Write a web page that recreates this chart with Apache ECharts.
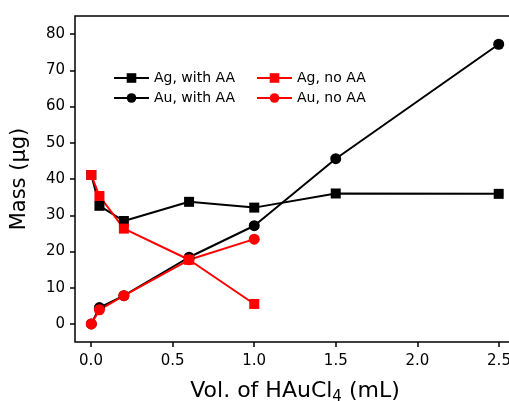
<!DOCTYPE html>
<html>
<head>
<meta charset="utf-8">
<script src="https://cdn.jsdelivr.net/npm/echarts@6/dist/echarts.min.js"></script>
<style>html,body{margin:0;padding:0;background:#fff}#c{width:509px;height:401px}</style>
</head>
<body>
<div id="c"></div>
<script>
// Data
const agWithX = [0, 0.05, 0.2, 0.6, 1.0, 1.5, 2.5];
const agWithY = [41.1, 32.6, 28.4, 33.7, 32.1, 36.0, 35.9];
const auWithX = [0, 0.05, 0.2, 0.6, 1.0, 1.5, 2.5];
const auWithY = [0, 4.5, 7.8, 18.4, 27.1, 45.6, 77.2];
const agNoX = [0, 0.05, 0.2, 0.6, 1.0];
const agNoY = [41.1, 35.3, 26.3, 17.7, 5.5];
const auNoX = [0, 0.05, 0.2, 0.6, 1.0];
const auNoY = [0, 3.9, 7.8, 17.7, 23.4];
const xTicks = [0, 0.5, 1.0, 1.5, 2.0, 2.5];
const yTicks = [0, 10, 20, 30, 40, 50, 60, 70, 80];
const names = ['Ag, with AA', 'Au, with AA', 'Ag, no AA', 'Au, no AA'];

const pairs = (xs, ys) => xs.map((x, i) => [x, ys[i]]);
const FONT = 'DejaVu Sans';

const chart = echarts.init(document.getElementById('c'));

function mk(name, xs, ys, color, symbol, size) {
  return {
    name, type: 'line', xAxisIndex: 0, yAxisIndex: 0,
    data: pairs(xs, ys), symbol, symbolSize: size,
    lineStyle: {color, width: 2}, itemStyle: {color},
    clip: false
  };
}
const off = () => ({axisLine: {show: false}, axisTick: {show: false}, axisLabel: {show: false}, splitLine: {show: false}});

chart.setOption({
  animation: false,
  grid: [
    // frame / data grid
    {left: 75, right: -6, top: 16, bottom: 59, show: true, borderColor: '#000', borderWidth: 1.5, outerBoundsMode: 'none'},
    // y tick strip (0..80), 5px wide, left of the frame
    {left: 70, width: 5, top: 34, bottom: 77, outerBoundsMode: 'none'},
    // x tick strip (0..2.5), 5px tall, below the frame
    {left: 91, right: 10, top: 342, height: 5, outerBoundsMode: 'none'}
  ],
  xAxis: [
    Object.assign(off(), {type: 'value', gridIndex: 0, min: -0.1, max: 2.6,
     name: '{a|Vol. of HAuCl}{s|4}{a| (mL)}', nameLocation: 'middle', nameGap: 36,
     nameTextStyle: {rich: {a: {fontSize: 22, fontFamily: FONT, color: '#000'}, s: {fontSize: 15, fontFamily: FONT, color: '#000', padding: [12, 0, 0, 0]}}}}),
    Object.assign(off(), {type: 'value', gridIndex: 1, min: 0, max: 1}),
    {type: 'value', gridIndex: 2, min: 0, max: 2.5, interval: 0.5, position: 'bottom',
     axisLine: {show: false}, axisTick: {show: false},
     splitLine: {show: true, lineStyle: {color: '#000', width: 1.5, type: 'solid'}},
     axisLabel: {color: '#000', fontSize: 15, fontFamily: FONT, margin: 7, formatter: v => xTicks.indexOf(v) >= 0 ? v.toFixed(1) : ''}}
  ],
  yAxis: [
    Object.assign(off(), {type: 'value', gridIndex: 0, min: -5, max: 85,
     name: 'Mass (μg)', nameLocation: 'middle', nameGap: 45, nameRotate: 90,
     nameTextStyle: {fontSize: 21, fontFamily: FONT, color: '#000'}}),
    {type: 'value', gridIndex: 1, min: 0, max: 80, interval: 10, position: 'left',
     axisLine: {show: false}, axisTick: {show: false},
     splitLine: {show: true, lineStyle: {color: '#000', width: 1.5, type: 'solid'}},
     axisLabel: {color: '#000', fontSize: 15, fontFamily: FONT, margin: 5, formatter: v => yTicks.indexOf(v) >= 0 ? String(v) : ''}},
    Object.assign(off(), {type: 'value', gridIndex: 2, min: 0, max: 1})
  ],
  legend: [
    {data: [names[0], names[1]], orient: 'vertical', left: 113, top: 71, padding: 0, itemWidth: 35, itemHeight: 12, itemGap: 6,
     textStyle: {fontSize: 14, fontFamily: FONT, color: '#000'}},
    {data: [names[2], names[3]], orient: 'vertical', left: 256, top: 71, padding: 0, itemWidth: 35, itemHeight: 12, itemGap: 6,
     textStyle: {fontSize: 14, fontFamily: FONT, color: '#000'}}
  ],
  series: [
    mk(names[0], agWithX, agWithY, '#000000', 'rect', 10),
    mk(names[1], auWithX, auWithY, '#000000', 'circle', 11),
    mk(names[2], agNoX, agNoY, '#ff0000', 'rect', 10),
    mk(names[3], auNoX, auNoY, '#ff0000', 'circle', 11)
  ]
});
</script>
</body>
</html>
